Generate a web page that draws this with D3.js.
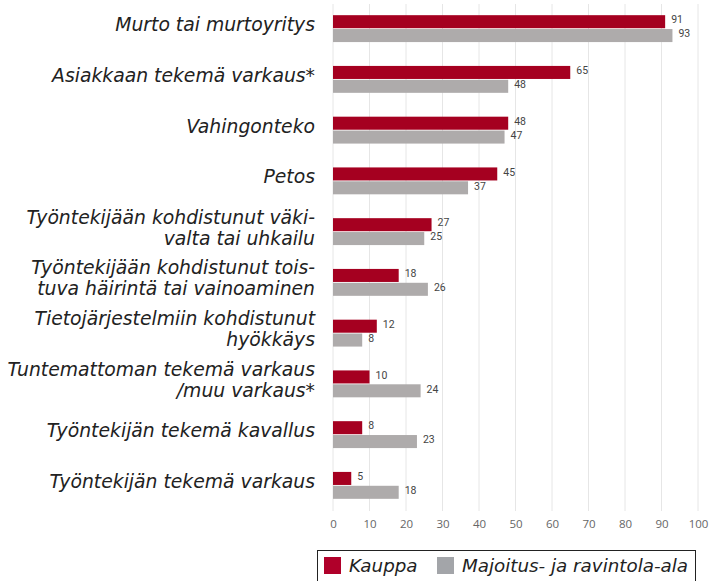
<!DOCTYPE html>
<html>
<head>
<meta charset="utf-8">
<script src="https://cdn.jsdelivr.net/npm/d3@7"></script>
<style>
  body { margin: 0; background: #fff; }
</style>
</head>
<body>
<svg id="chart" width="712" height="581"></svg>
<script>
let categories = [
    ["Murto tai murtoyritys"],
    ["Asiakkaan tekemä varkaus*"],
    ["Vahingonteko"],
    ["Petos"],
    ["Työntekijään kohdistunut väki-", "valta tai uhkailu"],
    ["Työntekijään kohdistunut tois-", "tuva häirintä tai vainoaminen"],
    ["Tietojärjestelmiin kohdistunut", "hyökkäys"],
    ["Tuntemattoman tekemä varkaus", "/muu varkaus*"],
    ["Työntekijän tekemä kavallus"],
    ["Työntekijän tekemä varkaus"]
];
let kauppa = [91, 65, 48, 45, 27, 18, 12, 10, 8, 5];
let majoitus = [93, 48, 47, 37, 25, 26, 8, 24, 23, 18];
let seriesNames = ["Kauppa", "Majoitus- ja ravintola-ala"];
let xTicks = [0, 10, 20, 30, 40, 50, 60, 70, 80, 90, 100];

let redColor = "#a50020";
let greyColor = "#aeabab";
let textColor = "#222";
let labelFont = "'DejaVu Sans', sans-serif";

function drawChart(svgId) {
    let svg = d3.select(svgId);
    let idx = d3.range(categories.length);

    let x = d3.scaleLinear()
        .domain([0, 100])
        .range([333, 698]);
    let y = d3.scaleBand()
        .domain(idx)
        .range([3, 511])
        .paddingInner(0.47)
        .paddingOuter(0.24);
    let ySub = d3.scaleBand()
        .domain([0, 1])
        .range([0, y.bandwidth()])
        .paddingInner(0.06);

    // gridlines
    svg.append("g").selectAll("line")
        .data(xTicks)
        .enter()
        .append("line")
        .attr("x1", d => x(d))
        .attr("x2", d => x(d))
        .attr("y1", 4)
        .attr("y2", 511)
        .style("stroke", "#e6e6e6")
        .style("stroke-width", 1);

    // x axis labels
    svg.append("g").call(d3.axisBottom(x).tickValues(xTicks).tickSize(0).tickPadding(0))
        .attr("transform", "translate(0,520)")
        .style("font-family", "'Open Sans', sans-serif")
        .style("font-size", 11.5)
        .style("color", "#666")
        .select(".domain").remove();

    // bars
    let series = [kauppa, majoitus];
    let colors = [redColor, greyColor];
    series.forEach(function (vals, s) {
        let g = svg.append("g");
        g.selectAll("rect")
            .data(vals)
            .enter()
            .append("rect")
            .attr("x", x(0))
            .attr("y", (d, i) => y(i) + ySub(s))
            .attr("width", d => x(d) - x(0))
            .attr("height", ySub.bandwidth())
            .style("fill", colors[s]);
        g.selectAll("text")
            .data(vals)
            .enter()
            .append("text")
            .attr("x", d => x(d) + 6)
            .attr("y", (d, i) => y(i) + ySub(s) + ySub.bandwidth() / 2 - 1)
            .attr("dominant-baseline", "middle")
            .text(d => d)
            .style("font-family", "'Liberation Sans Narrow', 'Roboto', sans-serif")
            .style("font-size", 10.5)
            .style("fill", "#444");
    });

    // category labels
    let lineH = 21;
    let labels = svg.append("g");
    categories.forEach(function (lines, i) {
        let cy = y(i) + y.bandwidth() / 2 - 3;
        let t = labels.append("text")
            .attr("text-anchor", "end")
            .style("font-family", labelFont)
            .style("font-style", "italic")
            .style("font-size", 18.8)
            .style("fill", textColor);
        lines.forEach(function (line, k) {
            t.append("tspan")
                .attr("x", 315)
                .attr("y", cy + (k - (lines.length - 1) / 2) * lineH)
                .attr("dominant-baseline", "middle")
                .text(line);
        });
    });

    // legend
    let legend = svg.append("g");
    legend.append("rect")
        .attr("x", 317.5)
        .attr("y", 550.5)
        .attr("width", 378)
        .attr("height", 40)
        .style("fill", "#fff")
        .style("stroke", "#222")
        .style("stroke-width", 1);
    let legendX = [324, 437];
    let legendColors = ["#b0002a", "#a3a5a9"];
    seriesNames.forEach(function (name, s) {
        legend.append("rect")
            .attr("x", legendX[s])
            .attr("y", 557)
            .attr("width", 17)
            .attr("height", 17)
            .style("fill", legendColors[s]);
        legend.append("text")
            .attr("x", legendX[s] + 25)
            .attr("y", 572)
            .text(name)
            .style("font-family", labelFont)
            .style("font-style", "italic")
            .style("font-size", 18.3)
            .style("fill", textColor);
    });
}

drawChart("#chart");
</script>
</body>
</html>
